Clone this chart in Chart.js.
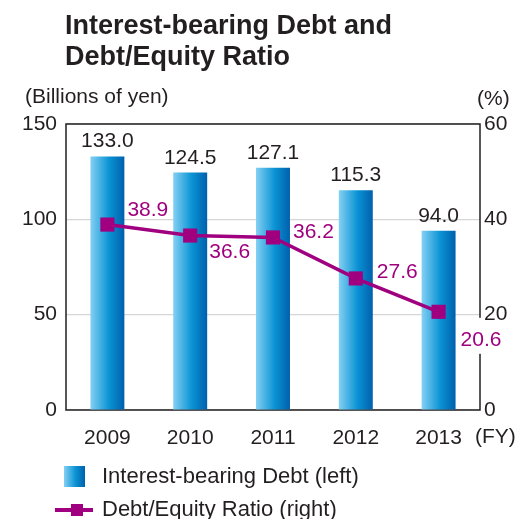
<!DOCTYPE html>
<html>
<head>
<meta charset="utf-8">
<script src="https://cdn.jsdelivr.net/npm/chart.js@4/dist/chart.umd.min.js"></script>
<style>
  html, body { margin: 0; padding: 0; background: #ffffff; }
  #wrap { width: 519px; height: 519px; }
</style>
</head>
<body>
<div id="wrap"><canvas id="c" width="519" height="519"></canvas></div>
<script>
// Fiscal years and values
const years = ['2009', '2010', '2011', '2012', '2013'];
const debtBillions = [133.0, 124.5, 127.1, 115.3, 94.0];
const debtEquityRatio = [38.9, 36.6, 36.2, 27.6, 20.6];
const leftTicks = [0, 50, 100, 150];
const rightTicks = [0, 20, 40, 60];

const INK = '#231f20';
const MAGENTA = '#a0007f';
const FONT = '"Liberation Sans", Arial, Helvetica, sans-serif';

// Offsets of the ratio labels from their markers [dx to left edge, dy to middle]
const ratioLabelOffset = [[20, -14], [19, 17], [20, -5], [21, -6], [22, 28]];

function blueGradient(ctx, x0, x1) {
  const g = ctx.createLinearGradient(x0, 0, x1, 0);
  g.addColorStop(0, '#84d0f3');
  g.addColorStop(0.55, '#0a93d4');
  g.addColorStop(1, '#0060ad');
  return g;
}

function barFill(context) {
  const chart = context.chart;
  const area = chart.chartArea;
  if (!area || context.dataIndex === undefined) return '#0a93d4';
  const x = chart.scales.x.getPixelForValue(context.dataIndex);
  const w = (area.right - area.left) / years.length * 0.41;
  return blueGradient(chart.ctx, x - w / 2, x + w / 2);
}

const decor = {
  id: 'decor',
  beforeDatasetsDraw(chart) {
    const { ctx, chartArea: a } = chart;
    ctx.save();
    ctx.strokeStyle = INK;
    ctx.lineWidth = 1.5;
    ctx.strokeRect(a.left, a.top, a.right - a.left, a.bottom - a.top);
    ctx.restore();
  },
  afterDatasetsDraw(chart) {
    const { ctx, chartArea: a } = chart;
    ctx.save();
    // bar value labels
    const barMeta = chart.getDatasetMeta(0);
    ctx.font = '21px ' + FONT;
    ctx.fillStyle = INK;
    ctx.textAlign = 'center';
    ctx.textBaseline = 'alphabetic';
    barMeta.data.forEach((el, i) => {
      ctx.fillText(debtBillions[i].toFixed(1), el.x, el.y - 9);
    });
    // ratio labels
    const lineMeta = chart.getDatasetMeta(1);
    ctx.textAlign = 'left';
    ctx.textBaseline = 'middle';
    lineMeta.data.forEach((el, i) => {
      const [dx, dy] = ratioLabelOffset[i];
      const txt = debtEquityRatio[i].toFixed(1);
      if (i === years.length - 1) {
        // the last label sits on the right axis line: clear the line behind it
        ctx.fillStyle = '#ffffff';
        ctx.fillRect(a.right - 3, el.y + dy - 22, 6, 36);
      }
      ctx.fillStyle = MAGENTA;
      ctx.fillText(txt, el.x + dx, el.y + dy);
    });

    // axis captions
    ctx.fillStyle = INK;
    ctx.font = '21px ' + FONT;
    ctx.textBaseline = 'middle';
    ctx.textAlign = 'left';
    ctx.fillText('(Billions of yen)', 25, 97);
    ctx.fillText('(%)', 477, 99);
    ctx.fillText('(FY)', 475, 437);

    // title
    ctx.font = 'bold 27px ' + FONT;
    ctx.textBaseline = 'alphabetic';
    ctx.fillText('Interest-bearing Debt and', 65, 34);
    ctx.fillText('Debt/Equity Ratio', 65, 65);

    // legend
    ctx.fillStyle = blueGradient(ctx, 64, 85);
    ctx.fillRect(64, 466, 21, 21);
    ctx.strokeStyle = MAGENTA;
    ctx.lineWidth = 4;
    ctx.beginPath();
    ctx.moveTo(55, 510);
    ctx.lineTo(93, 510);
    ctx.stroke();
    ctx.fillStyle = MAGENTA;
    ctx.fillRect(71, 504, 12, 12);
    ctx.fillStyle = INK;
    ctx.font = '22px ' + FONT;
    ctx.textBaseline = 'middle';
    ctx.fillText('Interest-bearing Debt (left)', 102, 477);
    ctx.fillText('Debt/Equity Ratio (right)', 102, 510);
    ctx.restore();
  }
};

new Chart(document.getElementById('c'), {
  data: {
    labels: years,
    datasets: [
      {
        type: 'bar',
        label: 'Interest-bearing Debt (left)',
        data: debtBillions,
        yAxisID: 'y',
        backgroundColor: barFill,
        borderWidth: 0,
        categoryPercentage: 1,
        barPercentage: 0.41,
        order: 2
      },
      {
        type: 'line',
        label: 'Debt/Equity Ratio (right)',
        data: debtEquityRatio,
        yAxisID: 'y1',
        borderColor: MAGENTA,
        backgroundColor: MAGENTA,
        borderWidth: 3.5,
        pointStyle: 'rect',
        pointRadius: 10,
        pointHoverRadius: 10,
        pointBorderWidth: 0,
        tension: 0,
        order: 1
      }
    ]
  },
  options: {
    responsive: false,
    animation: false,
    events: [],
    layout: { padding: { top: 124, left: 0, right: 0, bottom: 0 } },
    plugins: { legend: { display: false }, title: { display: false }, tooltip: { enabled: false } },
    scales: {
      x: {
        offset: true,
        grid: { display: false, drawTicks: false },
        border: { display: false },
        ticks: { color: INK, font: { family: FONT, size: 21 }, padding: 16, maxRotation: 0 },
        afterFit(s) { s.height = 109; }
      },
      y: {
        position: 'left',
        min: 0, max: 150,
        afterBuildTicks(s) { s.ticks = leftTicks.map(v => ({ value: v })); },
        grid: { color: '#d6d6d6', lineWidth: 1.2, drawTicks: false },
        border: { display: false },
        ticks: { color: INK, font: { family: FONT, size: 21 }, padding: 9 },
        afterFit(s) { s.width = 66; }
      },
      y1: {
        position: 'right',
        min: 0, max: 60,
        afterBuildTicks(s) { s.ticks = rightTicks.map(v => ({ value: v })); },
        grid: { display: false, drawTicks: false },
        border: { display: false },
        ticks: { color: INK, font: { family: FONT, size: 21 }, padding: 4 },
        afterFit(s) { s.width = 39; }
      }
    }
  },
  plugins: [decor]
});
</script>
</body>
</html>
